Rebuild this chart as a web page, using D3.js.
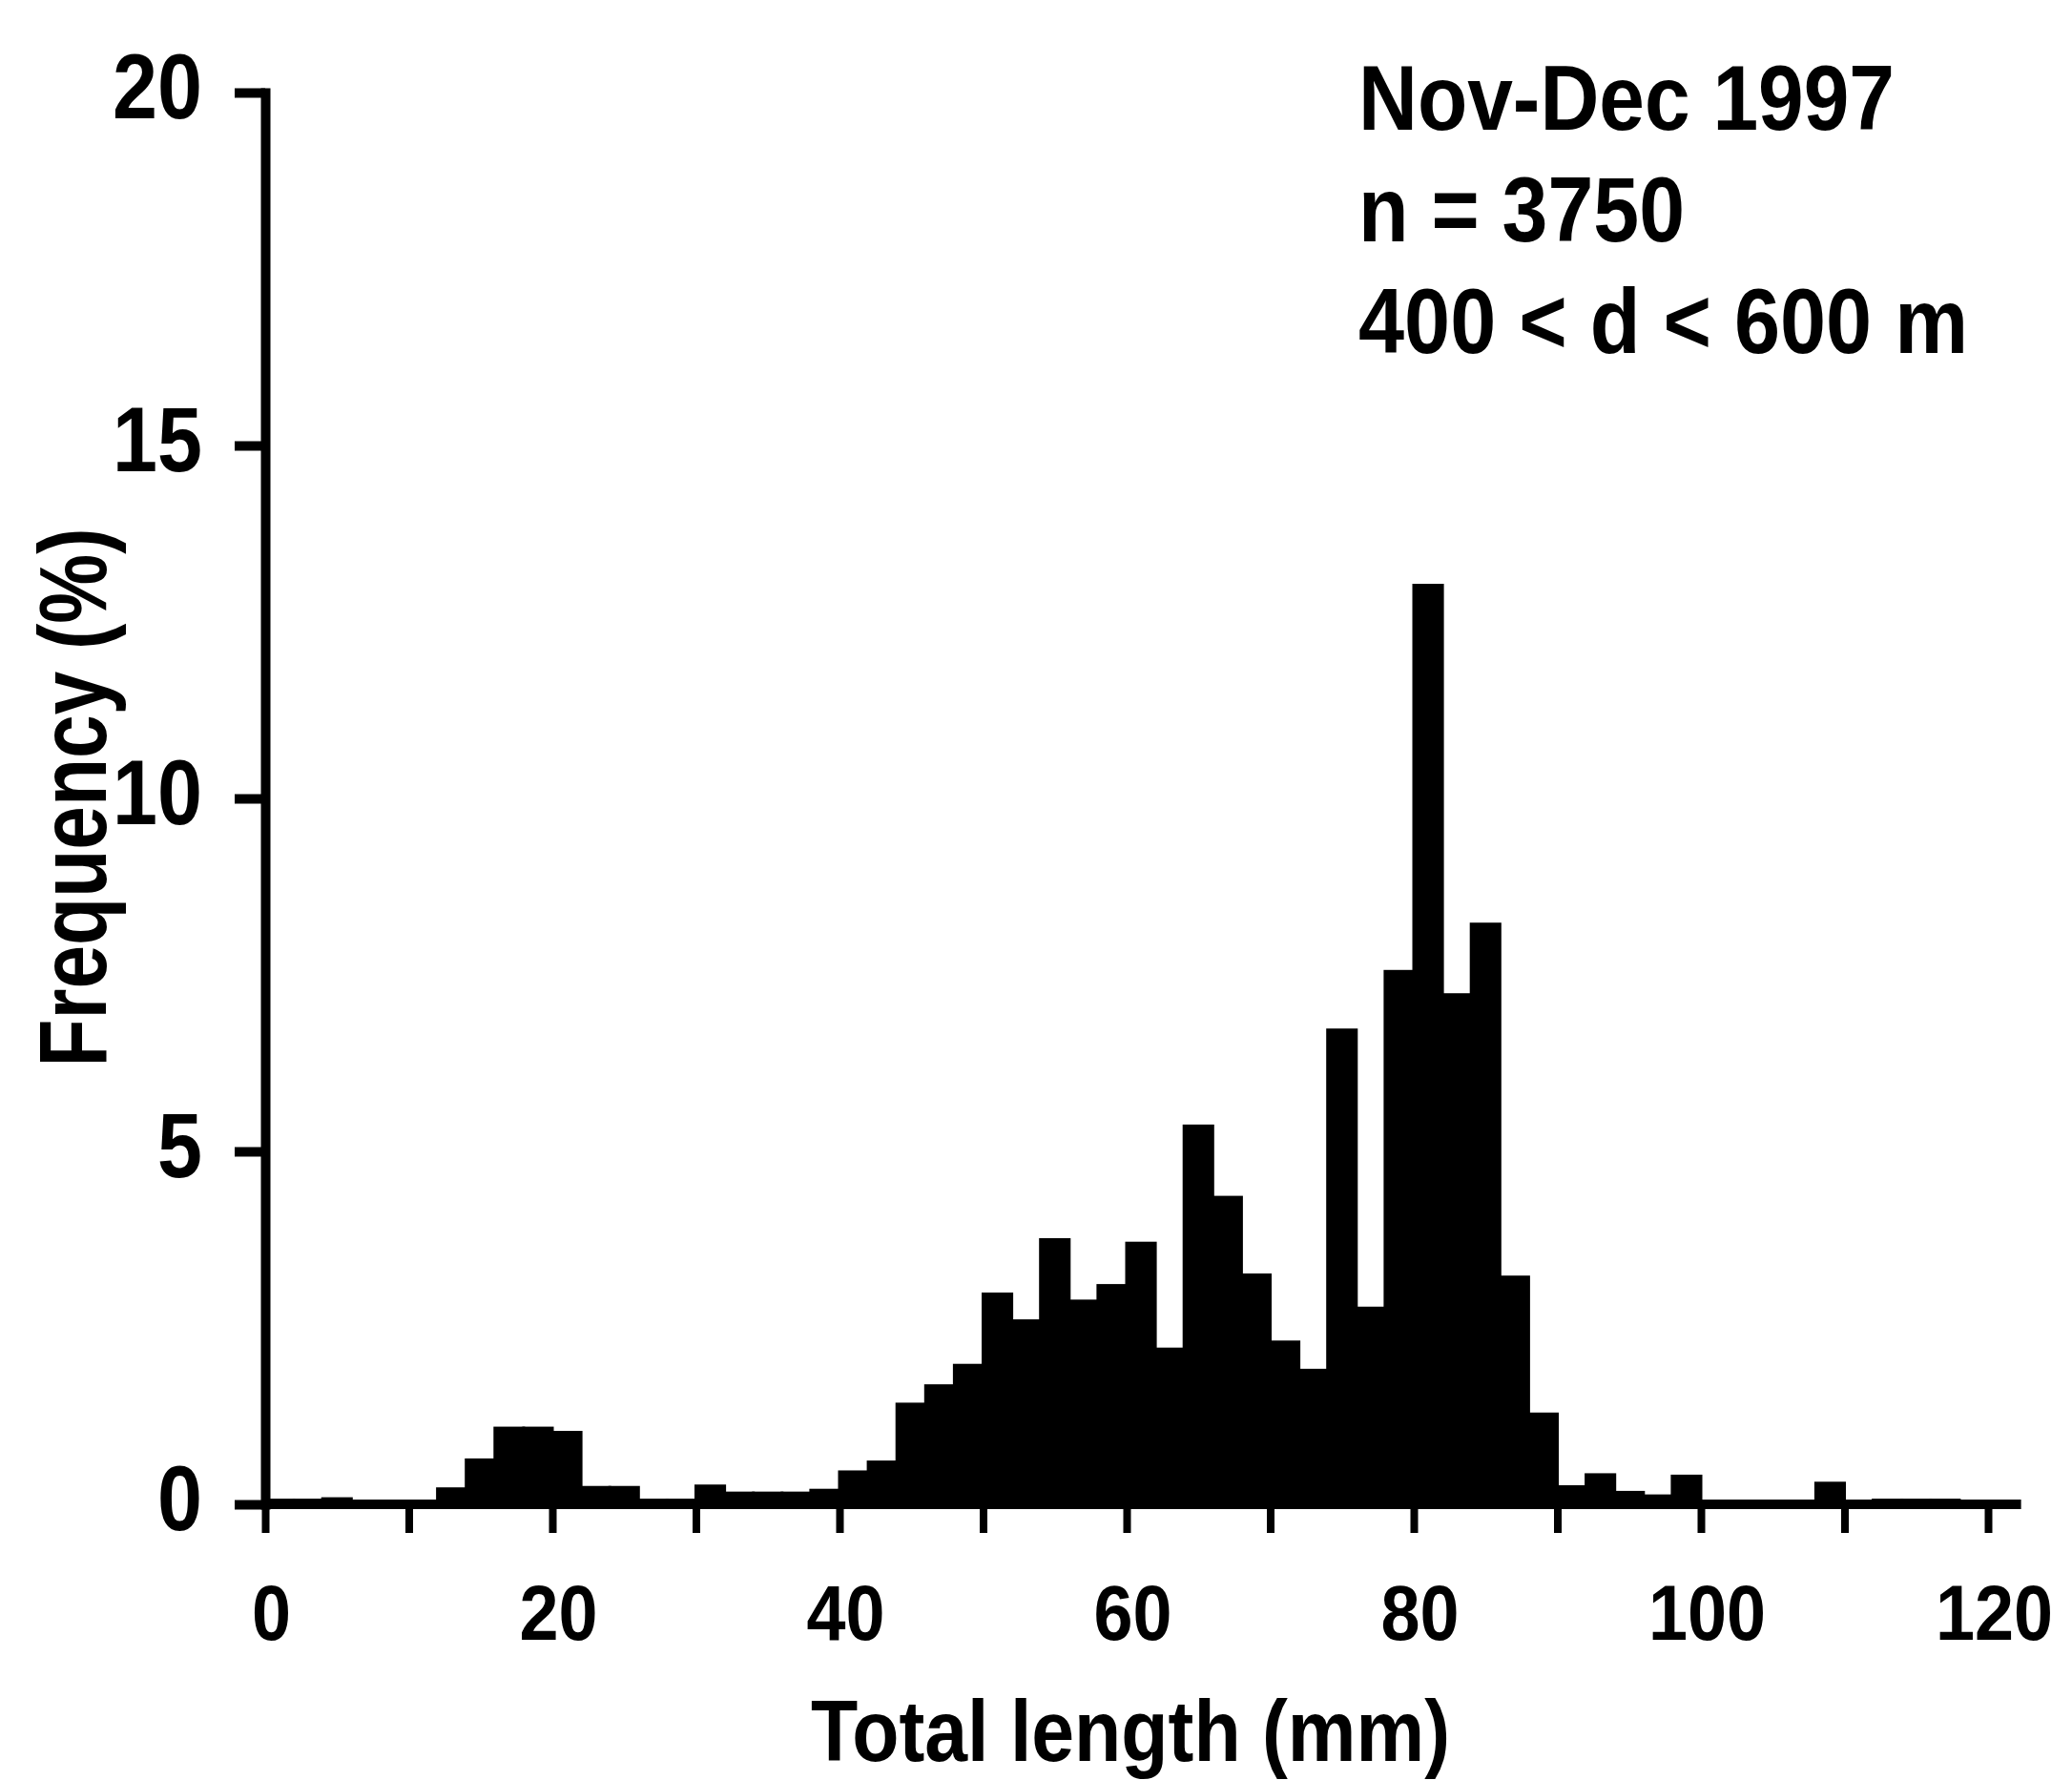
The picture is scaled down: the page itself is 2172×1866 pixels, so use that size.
<!DOCTYPE html>
<html>
<head>
<meta charset="utf-8">
<script src="https://cdn.jsdelivr.net/npm/d3@7"></script>
<style>
  body { margin: 0; background: #fff; }
  svg text { font-family: "Liberation Sans", Arial, sans-serif; font-weight: bold; fill: #000; }
</style>
</head>
<body>
<div id="svg-container"></div>
<script>
const width = 2172
const height = 1866

// DATA - 2 mm length classes (lower bound, mm) and frequency (%)
const lengthClasses = [
  0, 2, 4, 6, 8, 10, 12, 14, 16, 18, 20, 22, 24, 26, 28, 30, 32, 34, 36, 38,
  40, 42, 44, 46, 48, 50, 52, 54, 56, 58, 60, 62, 64, 66, 68, 70, 72, 74, 76, 78,
  80, 82, 84, 86, 88, 90, 92, 94, 96, 98, 100, 102, 104, 106, 108, 110, 112, 114, 116, 118
]
const frequencies = [
  0.06, 0.06, 0.08, 0.03, 0.02, 0.03, 0.22, 0.63, 1.08, 1.08, 1.02, 0.24, 0.24, 0.06, 0.06, 0.26, 0.16, 0.16, 0.16, 0.2,
  0.46, 0.6, 1.42, 1.68, 1.97, 2.98, 2.6, 3.75, 2.88, 3.1, 3.7, 2.2, 5.36, 4.35, 3.25, 2.3, 1.9, 6.72, 2.78, 7.55,
  13.02, 7.22, 8.22, 3.22, 1.28, 0.25, 0.42, 0.17, 0.12, 0.4, 0.03, 0.03, 0.03, 0.03, 0.3, 0.03, 0.06, 0.06, 0.06, 0.03
]
const binWidth = 2
const xTicks = [0, 10, 20, 30, 40, 50, 60, 70, 80, 90, 100, 110, 120]
const xLabelledTicks = [0, 20, 40, 60, 80, 100, 120]
const yTicks = [0, 5, 10, 15, 20]
const xAxisEnd = 122.3
const infoLines = ["Nov-Dec 1997", "n = 3750", "400 < d < 600 m"]
const xTitle = "Total length (mm)"
const yTitle = "Frequency (%)"

const svg = d3
  .select("#svg-container")
  .append("svg")
  .attr("width", width)
  .attr("height", height)
  .attr("viewBox", [0, 0, width, height])
  .style("background", "#fff")

const xScale = d3.scaleLinear().domain([0, 120]).range([278, 2084])
const yScale = d3.scaleLinear().domain([0, 20]).range([1577, 97])

// BARS
svg
  .append("g")
  .attr("class", "bars")
  .selectAll("rect")
  .data(lengthClasses)
  .join("rect")
  .attr("x", (d) => xScale(d))
  .attr("width", xScale(binWidth) - xScale(0))
  .attr("y", (d, i) => yScale(frequencies[i]))
  .attr("height", (d, i) => yScale(0) - yScale(frequencies[i]))
  .attr("fill", "#000")
  .attr("stroke", "#000")
  .attr("stroke-width", 3)

// Y AXIS
const yAxisGenerator = d3
  .axisLeft(yScale)
  .tickValues(yTicks)
  .tickSize(32)
  .tickSizeOuter(0)
  .tickPadding(34)

const yAxis = svg
  .append("g")
  .attr("class", "y-axis")
  .attr("transform", `translate(${xScale(0)},0)`)
  .call(yAxisGenerator)

yAxis.select(".domain").attr("stroke-width", 10).attr("stroke-linecap", "square")
yAxis.selectAll(".tick line").attr("stroke-width", 10)
yAxis
  .selectAll(".tick text")
  .style("font-size", "96px")
  .attr("dy", "0.28em")
  .attr("textLength", (d) => String(d).length * 47)
  .attr("lengthAdjust", "spacingAndGlyphs")

// X AXIS
const xAxisGenerator = d3
  .axisBottom(xScale)
  .tickValues(xTicks)
  .tickSize(30)
  .tickSizeOuter(0)
  .tickPadding(54)
  .tickFormat((d) => (xLabelledTicks.includes(d) ? d : ""))

const xAxis = svg
  .append("g")
  .attr("class", "x-axis")
  .attr("transform", `translate(0,${yScale(0)})`)
  .call(xAxisGenerator)

xAxis.select(".domain").remove()
xAxis.selectAll(".tick line").attr("stroke-width", 8)
xAxis
  .selectAll(".tick text")
  .style("font-size", "82px")
  .attr("dx", 6)
  .filter((d) => xLabelledTicks.includes(d))
  .attr("textLength", (d) => String(d).length * 41)
  .attr("lengthAdjust", "spacingAndGlyphs")

xAxis
  .append("line")
  .attr("x1", xScale(0))
  .attr("x2", xScale(xAxisEnd))
  .attr("stroke", "#000")
  .attr("stroke-width", 10)

// AXIS TITLES
svg
  .append("text")
  .attr("x", 1185)
  .attr("y", 1846)
  .attr("text-anchor", "middle")
  .attr("textLength", 670)
  .attr("lengthAdjust", "spacingAndGlyphs")
  .style("font-size", "91px")
  .text(xTitle)

svg
  .append("text")
  .attr("transform", "translate(111,836) rotate(-90)")
  .attr("text-anchor", "middle")
  .attr("textLength", 565)
  .attr("lengthAdjust", "spacingAndGlyphs")
  .style("font-size", "100px")
  .text(yTitle)

// INFO BLOCK
const infoWidths = [562, 342, 639]
svg
  .append("g")
  .attr("class", "info")
  .selectAll("text")
  .data(infoLines)
  .join("text")
  .attr("x", 1424)
  .attr("y", (d, i) => 136 + i * 117)
  .attr("textLength", (d, i) => infoWidths[i])
  .attr("lengthAdjust", "spacingAndGlyphs")
  .style("font-size", "96px")
  .text((d) => d)
</script>
</body>
</html>
